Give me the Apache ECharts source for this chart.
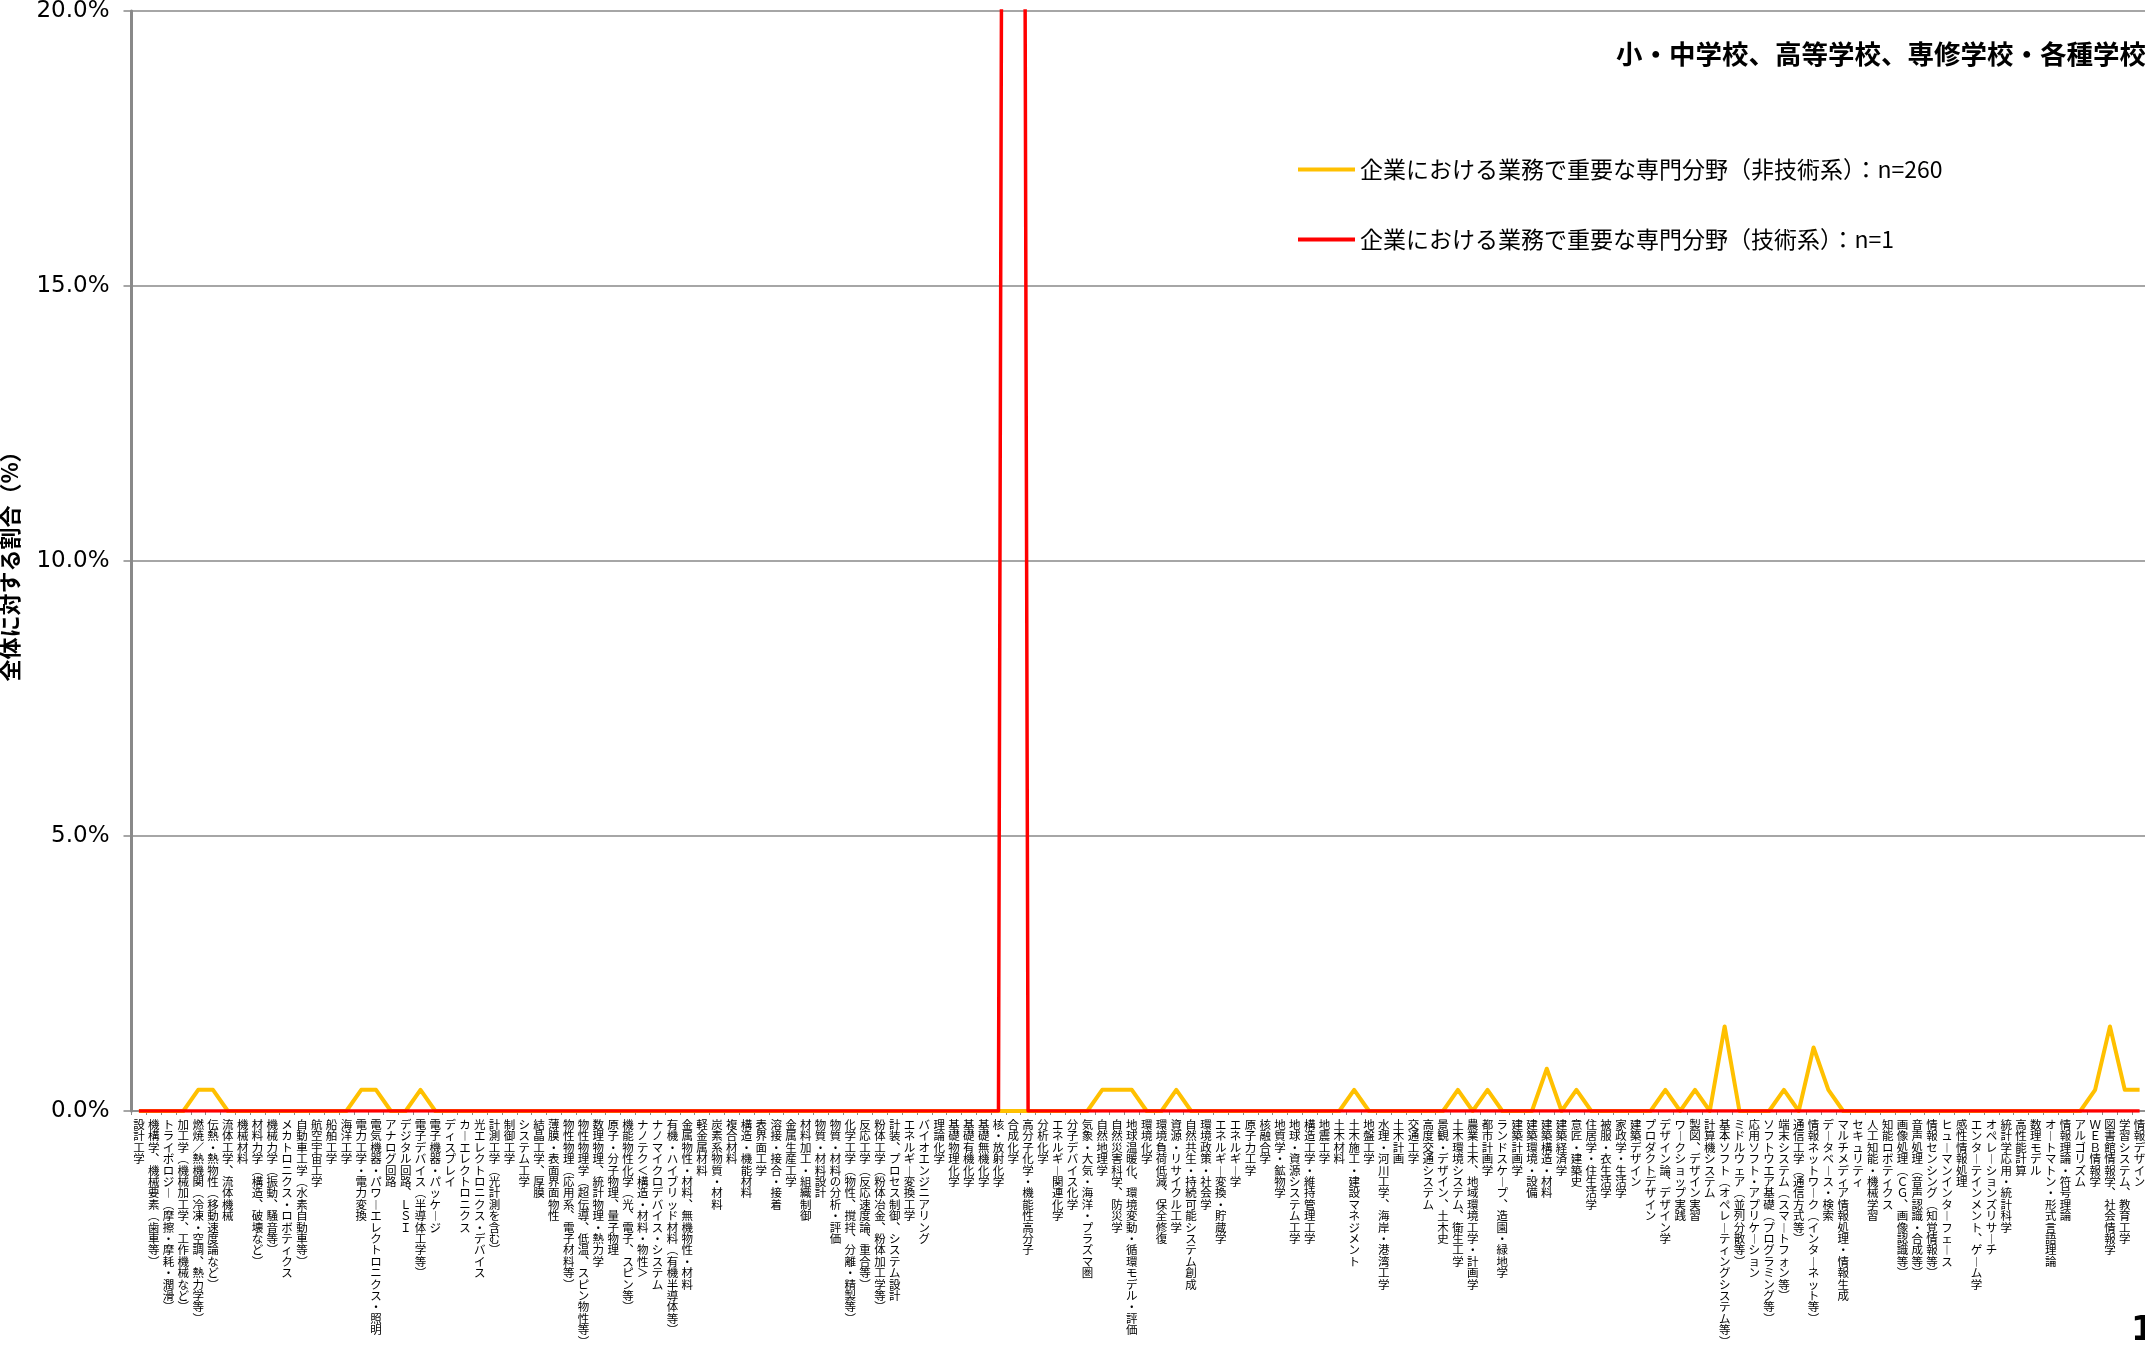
<!DOCTYPE html>
<html><head><meta charset="utf-8">
<script src="https://cdn.jsdelivr.net/npm/echarts@6/dist/echarts.min.js"></script>
<style>html,body{margin:0;padding:0;background:#fff;overflow:hidden}#c{width:2145px;height:1346px}</style>
</head><body><div id="c"></div>
<script>
const chartTitle = '小・中学校、高等学校、専修学校・各種学校';
const seriesNames = ['企業における業務で重要な専門分野（非技術系）：n=260', '企業における業務で重要な専門分野（技術系）：n=1'];
const yTickValues = [0, 5, 10, 15, 20];

const categories = [
'設計工学','機構学、機械要素（歯車等）','トライボロジー（摩擦・摩耗・潤滑）','加工学（機械加工学、工作機械など）','燃焼／熱機関（冷凍・空調、熱力学等）',
'伝熱・熱物性（移動速度論など）','流体工学、流体機械','機械材料','材料力学（構造、破壊など）','機械力学（振動、騒音等）',
'メカトロニクス・ロボティクス','自動車工学（水素自動車等）','航空宇宙工学','船舶工学','海洋工学',
'電力工学・電力変換','電気機器・パワーエレクトロニクス・照明','アナログ回路','デジタル回路、ＬＳＩ','電子デバイス（半導体工学等）',
'電子機器・パッケージ','ディスプレイ','カーエレクトロニクス','光エレクトロニクス・デバイス','計測工学（光計測を含む）',
'制御工学','システム工学','結晶工学、厚膜','薄膜・表面界面物性','物性物理（応用系、電子材料等）',
'物性物理学（超伝導、低温、スピン物性等）','数理物理、統計物理・熱力学','原子・分子物理、量子物理','機能物性化学（光、電子、スピン等）','ナノテク＜構造・材料・物性＞',
'ナノマイクロデバイス・システム','有機・ハイブリッド材料（有機半導体等）','金属物性・材料、無機物性・材料','軽金属材料','炭素系物質・材料',
'複合材料','構造・機能材料','表界面工学','溶接・接合・接着','金属生産工学',
'材料加工・組織制御','物質・材料設計','物質・材料の分析・評価','化学工学（物性、撹拌、分離・精製等）','反応工学（反応速度論、重合等）',
'粉体工学（粉体冶金、粉体加工学等）','計装、プロセス制御、システム設計','エネルギー変換工学','バイオエンジニアリング','理論化学',
'基礎物理化学','基礎有機化学','基礎無機化学','核・放射化学','合成化学',
'高分子化学・機能性高分子','分析化学','エネルギー関連化学','分子デバイス化学','気象・大気・海洋・プラズマ圏',
'自然地理学','自然災害科学、防災学','地球温暖化、環境変動・循環モデル・評価','環境化学','環境負荷低減、保全修復',
'資源・リサイクル工学','自然共生・持続可能システム創成','環境政策・社会学','エネルギー変換・貯蔵学','エネルギー学',
'原子力工学','核融合学','地質学・鉱物学','地球・資源システム工学','構造工学・維持管理工学',
'地震工学','土木材料','土木施工・建設マネジメント','地盤工学','水理・河川工学、海岸・港湾工学',
'土木計画','交通工学','高度交通システム','景観・デザイン、土木史','土木環境システム、衛生工学',
'農業土木、地域環境工学・計画学','都市計画学','ランドスケープ、造園・緑地学','建築計画学','建築環境・設備',
'建築構造・材料','建築経済学','意匠・建築史','住居学・住生活学','被服・衣生活学',
'家政学・生活学','建築デザイン','プロダクトデザイン','デザイン論、デザイン学','ワークショップ実践',
'製図、デザイン実習','計算機システム','基本ソフト（オペレーティングシステム等）','ミドルウェア（並列分散等）','応用ソフト・アプリケーション',
'ソフトウエア基礎（プログラミング等）','端末システム（スマートフォン等）','通信工学（通信方式等）','情報ネットワーク（インターネット等）','データベース・検索',
'マルチメディア情報処理・情報生成','セキュリティ','人工知能・機械学習','知能ロボティクス','画像処理（ＣＧ、画像認識等）',
'音声処理（音声認識・合成等）','情報センシング（知覚情報等）','ヒューマンインターフェース','感性情報処理','エンターテインメント、ゲーム学',
'オペレーションズリサーチ','統計学応用・統計科学','高性能計算','数理モデル','オートマトン・形式言語理論',
'情報理論・符号理論','アルゴリズム','ＷＥＢ情報学','図書館情報学、社会情報学','学習システム、教育工学',
'情報デザイン'
];

// percent of respondents (non-technical, n=260)
const nonTechPct = [
0,0,0,0,0.385,0.385,0,0,0,0,
0,0,0,0,0,0.385,0.385,0,0,0.385,
0,0,0,0,0,0,0,0,0,0,
0,0,0,0,0,0,0,0,0,0,
0,0,0,0,0,0,0,0,0,0,
0,0,0,0,0,0,0,0,0,0,
0,0,0,0,0,0.385,0.385,0.385,0,0,
0.385,0,0,0,0,0,0,0,0,0,
0,0,0.385,0,0,0,0,0,0,0.385,
0,0.385,0,0,0,0.769,0,0.385,0,0,
0,0,0,0.385,0,0.385,0,1.538,0,0,
0,0.385,0,1.154,0.385,0,0,0,0,0,
0,0,0,0,0,0,0,0,0,0,
0,0,0.385,1.538,0.385,0.385
];

// percent of respondents (technical, n=1)
const techPct = [
0,0,0,0,0,0,0,0,0,0,
0,0,0,0,0,0,0,0,0,0,
0,0,0,0,0,0,0,0,0,0,
0,0,0,0,0,0,0,0,0,0,
0,0,0,0,0,0,0,0,0,0,
0,0,0,0,0,0,0,0,0,100,
0,0,0,0,0,0,0,0,0,0,
0,0,0,0,0,0,0,0,0,0,
0,0,0,0,0,0,0,0,0,0,
0,0,0,0,0,0,0,0,0,0,
0,0,0,0,0,0,0,0,0,0,
0,0,0,0,0,0,0,0,0,0,
0,0,0,0,0,0,0,0,0,0,
0,0,0,0,0,0
];

const VMAP = {'（':'︵','）':'︶','ー':'︱','、':'︑'};
function vert(s){ return Array.from(s).map(c => VMAP[c] || c).join('\n'); }

const chart = echarts.init(document.getElementById('c'), null, {renderer:'canvas'});
const GRAY = '#898989';
const option = {
  animation: false,
  backgroundColor: '#fff',
  title: {
    text: chartTitle, left: 1611, top: 36,
    textStyle: {fontFamily: '"Noto Sans CJK JP"', fontWeight: 'bold', fontSize: 26.5, color: '#000'}
  },
  legend: {
    orient: 'vertical', left: 1291, top: 153, itemWidth: 57, itemHeight: 24, itemGap: 47,
    itemStyle: {opacity: 0},
    lineStyle: {width: 4},
    textStyle: {fontFamily: '"Noto Sans CJK JP"', fontSize: 23, color: '#000'},
    data: seriesNames
  },
  grid: {left: 131.5, top: 11, width: 2015.5, height: 1100, outerBoundsMode: 'none'},
  xAxis: {
    type: 'category', data: categories, boundaryGap: true,
    axisLine: {lineStyle: {color: GRAY, width: 1.5}},
    axisTick: {show: true, length: 4, lineStyle: {color: GRAY, width: 1}},
    axisLabel: {
      interval: 0, margin: 8, fontFamily: '"Noto Sans CJK JP"', fontSize: 11.5, lineHeight: 11.4,
      color: '#000', formatter: vert, verticalAlign: 'top', align: 'center'
    }
  },
  yAxis: {
    type: 'value', min: yTickValues[0], max: yTickValues[yTickValues.length-1], interval: 5,
    name: '全体に対する割合（%）', nameLocation: 'middle', nameGap: 111, nameRotate: 90,
    nameTextStyle: {fontFamily: '"Noto Sans CJK JP"', fontWeight: 'bold', fontSize: 22, color: '#000'},
    axisLine: {show: true, lineStyle: {color: GRAY, width: 3}},
    axisTick: {show: true, length: 8, lineStyle: {color: GRAY, width: 1.5}},
    axisLabel: {margin: 22, fontFamily: '"DejaVu Sans"', fontSize: 23, color: '#000',
      formatter: v => v.toFixed(1) + '%'},
    splitLine: {lineStyle: {color: GRAY, width: 1.5}}
  },
  graphic: [{type: 'text', left: 2131, top: 1314, style: {text: '1', font: 'bold 34px "DejaVu Sans"', fill: '#000'}}],
  series: [
    {name: seriesNames[0], type: 'line', data: nonTechPct, symbol: 'none', z: 3,
     lineStyle: {color: '#FFC000', width: 4, join: 'round'}, itemStyle: {color: '#FFC000'}},
    {name: seriesNames[1], type: 'line', data: techPct, symbol: 'none', z: 4,
     lineStyle: {color: '#FF0000', width: 3.5, join: 'round'}, itemStyle: {color: '#FF0000'}}
  ]
};
chart.setOption(option);
</script>
</body></html>
